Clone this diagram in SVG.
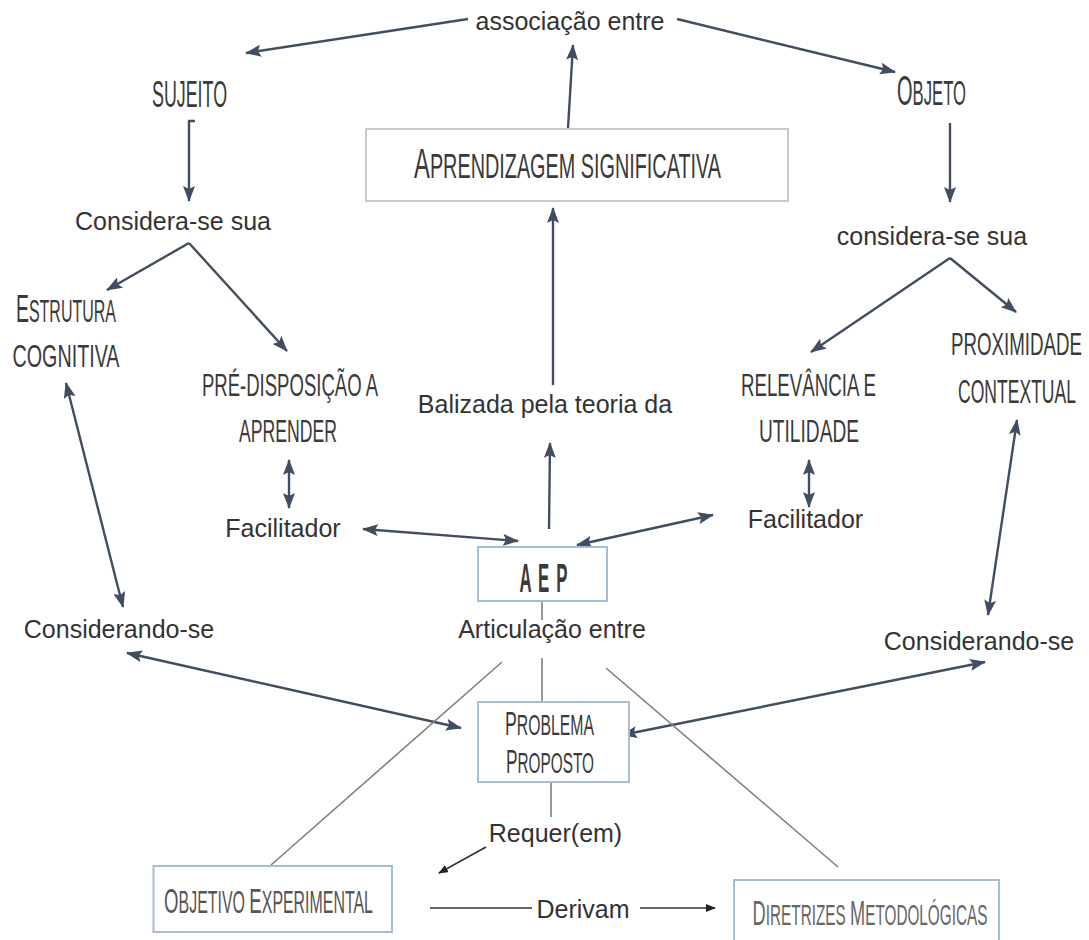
<svg xmlns="http://www.w3.org/2000/svg" width="1089" height="940" viewBox="0 0 1089 940">
<style>
.t{font-family:"Liberation Sans",Arial,sans-serif;font-size:25px;fill:#333;text-anchor:middle}
.a{font-family:"Liberation Sans",Arial,sans-serif;text-transform:uppercase;fill:#3a3a3a;text-anchor:middle}
.box{fill:#fff;stroke:#a9bcd6;stroke-width:2}
.gbox{fill:#fff;stroke:#c9c9c9;stroke-width:2}
.c{stroke:#414e61;stroke-width:2.4;fill:none}
.g{stroke:#808080;stroke-width:1.6;fill:none}
.k{stroke:#333;stroke-width:1.6;fill:none}
</style>
<defs>
<marker id="ah" markerUnits="userSpaceOnUse" markerWidth="16" markerHeight="12" viewBox="0 0 16 12" refX="15" refY="6" orient="auto-start-reverse">
<path d="M0,0 L16,6 L0,12 L3,6 z" fill="#414e61"/>
</marker>
<marker id="sh" markerUnits="userSpaceOnUse" markerWidth="10" markerHeight="8" viewBox="0 0 10 8" refX="9" refY="4" orient="auto">
<path d="M0,0 L10,4 L0,8 z" fill="#222"/>
</marker>
</defs>
<rect width="1089" height="940" fill="#fff"/>
<g id="connectors">
<line class="c" x1="468" y1="19" x2="246" y2="53" marker-end="url(#ah)"/>
<line class="c" x1="677" y1="19" x2="895" y2="72" marker-end="url(#ah)"/>
<line class="c" x1="568" y1="128" x2="573" y2="45" marker-end="url(#ah)"/>
<line class="c" x1="553" y1="385" x2="553" y2="208" marker-end="url(#ah)"/>
<line class="c" x1="549" y1="529" x2="550" y2="443" marker-end="url(#ah)"/>
<path class="c" d="M195,121 L189,121 L189,201" marker-end="url(#ah)"/>
<line class="c" x1="189" y1="243" x2="107" y2="290" marker-end="url(#ah)"/>
<line class="c" x1="189" y1="243" x2="287" y2="351" marker-end="url(#ah)"/>
<line class="c" x1="289" y1="460" x2="289" y2="508" marker-start="url(#ah)" marker-end="url(#ah)"/>
<line class="c" x1="363" y1="529" x2="518" y2="541" marker-start="url(#ah)" marker-end="url(#ah)"/>
<line class="c" x1="577" y1="545" x2="713" y2="515" marker-start="url(#ah)" marker-end="url(#ah)"/>
<line class="c" x1="809" y1="460" x2="809" y2="507" marker-start="url(#ah)" marker-end="url(#ah)"/>
<line class="c" x1="950" y1="123" x2="950" y2="202" marker-end="url(#ah)"/>
<line class="c" x1="950" y1="258" x2="811" y2="352" marker-end="url(#ah)"/>
<line class="c" x1="950" y1="258" x2="1016" y2="312" marker-end="url(#ah)"/>
<line class="c" x1="1017" y1="420" x2="988" y2="615" marker-start="url(#ah)" marker-end="url(#ah)"/>
<line class="c" x1="66" y1="383" x2="123" y2="607" marker-start="url(#ah)" marker-end="url(#ah)"/>
<line class="c" x1="127" y1="653" x2="461" y2="728" marker-start="url(#ah)" marker-end="url(#ah)"/>
<line class="c" x1="985" y1="662" x2="622" y2="735" marker-start="url(#ah)" marker-end="url(#ah)"/>
<line class="g" x1="542" y1="601" x2="542" y2="620"/>
<line class="g" x1="542" y1="658" x2="542" y2="702"/>
<line class="g" x1="502" y1="662" x2="271" y2="865"/>
<line class="g" x1="606" y1="668" x2="838" y2="867"/>
<line class="g" x1="551" y1="782" x2="551" y2="817"/>
<line class="k" x1="486" y1="847" x2="439" y2="873" marker-end="url(#sh)"/>
<line class="k" x1="430" y1="908" x2="532" y2="908"/>
<line class="k" x1="640" y1="908" x2="715" y2="908" marker-end="url(#sh)"/>
</g>
<g id="n-associacao"><text class="t" x="570" y="30">associação entre</text></g>
<g id="n-sujeito"><text class="a" transform="translate(189.5,107) scale(0.47,1)" font-size="37.8" textLength="159.6" lengthAdjust="spacingAndGlyphs">sujeito</text></g>
<g id="n-objeto"><text class="a" transform="translate(931.5,105) scale(0.474,1)" font-size="35" textLength="145.5" lengthAdjust="spacingAndGlyphs"><tspan font-size="42">O</tspan>bjeto</text></g>
<g id="n-aprendizagem"><rect class="gbox" x="366" y="129" width="422" height="72"/><text class="a" transform="translate(567.5,178) scale(0.561,1)" font-size="35" textLength="547.2" lengthAdjust="spacingAndGlyphs"><tspan font-size="42">A</tspan>prendizagem significativa</text></g>
<g id="n-considera-esq"><text class="t" x="173" y="230">Considera-se sua</text></g>
<g id="n-considera-dir"><text class="t" x="932" y="245">considera-se sua</text></g>
<g id="n-estrutura"><text class="a" transform="translate(66,322) scale(0.497,1)" font-size="32.2" textLength="201.3" lengthAdjust="spacingAndGlyphs"><tspan font-size="39">E</tspan>strutura</text><text class="a" transform="translate(66,367) scale(0.604,1)" font-size="32.2" textLength="177.1" lengthAdjust="spacingAndGlyphs">cognitiva</text></g>
<g id="n-predisposicao"><text class="a" transform="translate(290,396) scale(0.598,1)" font-size="30.8" textLength="294.5" lengthAdjust="spacingAndGlyphs">pré-disposição a</text><text class="a" transform="translate(288,442) scale(0.548,1)" font-size="32.2" textLength="178.9" lengthAdjust="spacingAndGlyphs">aprender</text></g>
<g id="n-relevancia"><text class="a" transform="translate(808.5,396) scale(0.602,1)" font-size="30.8" textLength="224.3" lengthAdjust="spacingAndGlyphs">relevância e</text><text class="a" transform="translate(809,442) scale(0.595,1)" font-size="32.2" textLength="168.2" lengthAdjust="spacingAndGlyphs">utilidade</text></g>
<g id="n-proximidade"><text class="a" transform="translate(1016.5,355) scale(0.594,1)" font-size="31.5" textLength="220.5" lengthAdjust="spacingAndGlyphs">proximidade</text><text class="a" transform="translate(1017,403) scale(0.533,1)" font-size="32.9" textLength="221.2" lengthAdjust="spacingAndGlyphs">contextual</text></g>
<g id="n-balizada"><text class="t" x="545" y="413">Balizada pela teoria da</text></g>
<g id="n-facilitador-esq"><text class="t" x="283" y="537">Facilitador</text></g>
<g id="n-facilitador-dir"><text class="t" x="805.5" y="528">Facilitador</text></g>
<g id="n-aep"><rect class="box" x="478" y="547" width="129" height="54"/><text class="a" transform="translate(543.5,592) scale(0.42,1)" font-size="40" font-weight="bold" textLength="114" lengthAdjust="spacing">A E P</text></g>
<g id="n-articulacao"><text class="t" x="552" y="638">Articulação entre</text></g>
<g id="n-considerando-esq"><text class="t" x="119" y="638">Considerando-se</text></g>
<g id="n-considerando-dir"><text class="t" x="979" y="650">Considerando-se</text></g>
<g id="n-problema"><rect class="box" x="478" y="702" width="151" height="80"/><text class="a" transform="translate(549.5,735) scale(0.54,1)" font-size="29.4" textLength="165" lengthAdjust="spacingAndGlyphs"><tspan font-size="33">P</tspan>roblema</text><text class="a" transform="translate(550,773) scale(0.524,1)" font-size="29.4" textLength="168" lengthAdjust="spacingAndGlyphs"><tspan font-size="33">P</tspan>roposto</text></g>
<g id="n-requer"><text class="t" x="555.5" y="842">Requer(em)</text></g>
<g id="n-objetivo"><rect class="box" x="153.5" y="866" width="238.5" height="66"/><text class="a" transform="translate(268.5,913) scale(0.514,1)" font-size="30.8" style="fill:#555" textLength="406.4" lengthAdjust="spacingAndGlyphs"><tspan font-size="36">O</tspan>bjetivo <tspan font-size="36">E</tspan>xperimental</text></g>
<g id="n-derivam"><text class="t" x="583" y="918">Derivam</text></g>
<g id="n-diretrizes"><rect class="box" x="734" y="880" width="265" height="75"/><text class="a" transform="translate(870,925) scale(0.52,1)" font-size="29.4" style="fill:#666" textLength="451.6" lengthAdjust="spacingAndGlyphs"><tspan font-size="35">D</tspan>iretrizes <tspan font-size="35">M</tspan>etodológicas</text></g>
</svg>
